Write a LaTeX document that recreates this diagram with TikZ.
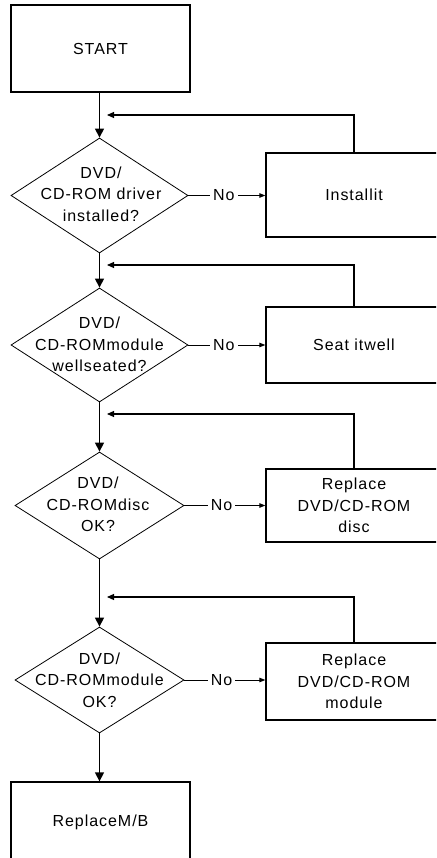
\documentclass[tikz,border=0pt]{standalone}
\usepackage{fontspec}
\newfontfamily\flowfont[LetterSpace=6]{Liberation Sans}
\usetikzlibrary{shapes.geometric,arrows.meta}
\begin{document}
\begin{tikzpicture}[x=1pt,y=-1pt,
  lbl/.style={font=\flowfont\fontsize{16}{21.5}\selectfont, align=center, inner sep=0pt},
  box/.style={lbl, draw, line width=1.3pt, minimum width=176pt, minimum height=84pt},
  dia/.style={draw, diamond, line width=0.8pt, inner sep=0pt},
  flow/.style={line width=1.3pt, -{Triangle[width=9pt,length=9pt]}},
  back/.style={line width=1.1pt, -{Triangle[width=6pt,length=7pt]}},
  noarr/.style={line width=1pt, -{Triangle[width=4.5pt,length=6pt]}},
  nolbl/.style={lbl, fill=white, inner xsep=3pt, inner ysep=2pt}
]
\useasboundingbox (0,0) rectangle (436,858);
\clip (0,0) rectangle (436,858);

% main column
\node[box, minimum width=179pt, minimum height=87pt] (start) at (100.5,48.5) {START};

\node[dia, minimum width=177pt, minimum height=115pt] (d1) at (99.5,195.5) {};
\node[lbl] (t1) at (101,194) {DVD/\\CD-ROM driver\\installed?};

\node[dia, minimum width=177pt, minimum height=114pt] (d2) at (99.5,345) {};
\node[lbl] (t2) at (99.5,344.5) {DVD/\\CD-ROMmodule\\wellseated?};

\node[dia, minimum width=169pt, minimum height=107pt] (d3) at (99.5,505.5) {};
\node[lbl] (t3) at (98,504.5) {DVD/\\CD-ROMdisc\\OK?};

\node[dia, minimum width=169pt, minimum height=106pt] (d4) at (99.5,680) {};
\node[lbl] (t4) at (99.5,680) {DVD/\\CD-ROMmodule\\OK?};

\node[box, minimum width=179pt, minimum height=80pt] (mb) at (100.5,822) {ReplaceM/B};

% right column
\node[box, minimum height=84pt] (b1) at (354,195) {Installit};
\node[box, minimum height=76pt] (b2) at (354,345) {Seat itwell};
\node[box, minimum height=73pt] (b3) at (354,505.5) {Replace\\DVD/CD-ROM\\disc};
\node[box, minimum height=77pt] (b4) at (354,681.5) {Replace\\DVD/CD-ROM\\module};

% feedback end points
\coordinate (f1) at (107,115);
\coordinate (f2) at (107,265);
\coordinate (f3) at (107,414);
\coordinate (f4) at (107,597);

% main flow
\draw[flow] (d1.north |- start.south) -- (d1.north);
\draw[flow] (d1.south) -- (d2.north);
\draw[flow] (d2.south) -- (d3.north);
\draw[flow] (d3.south) -- (d4.north);
\draw[flow] (d4.south) -- (d4.south |- mb.north);

% No branches
\draw[noarr] (d1.east) -- node[nolbl, pos=0.46] {No} (d1.east -| b1.west);
\draw[noarr] (d2.east) -- node[nolbl, pos=0.46] {No} (d2.east -| b2.west);
\draw[noarr] (d3.east) -- node[nolbl, pos=0.46] {No} (d3.east -| b3.west);
\draw[noarr] (d4.east) -- node[nolbl, pos=0.46] {No} (d4.east -| b4.west);

% feedback loops
\draw[back] (b1.north) |- (f1);
\draw[back] (b2.north) |- (f2);
\draw[back] (b3.north) |- (f3);
\draw[back] (b4.north) |- (f4);
\end{tikzpicture}
\end{document}
